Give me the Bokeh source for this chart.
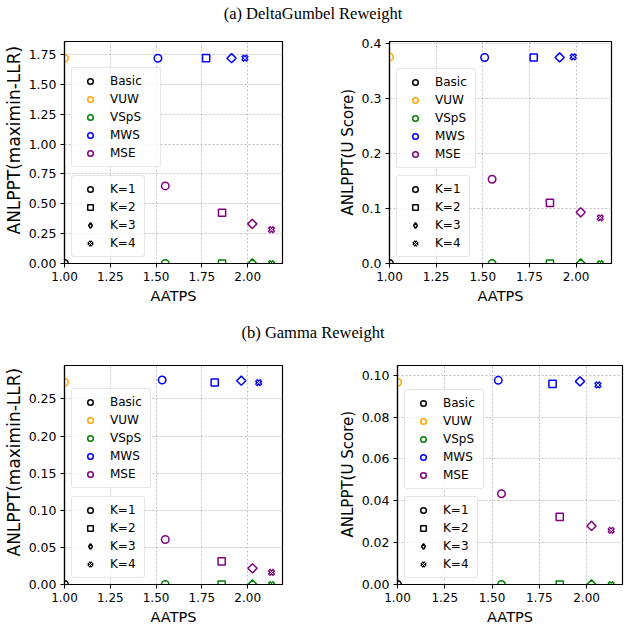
import math
from bokeh.plotting import figure
from bokeh.models import (ColumnDataSource, Legend, LegendItem, FixedTicker,
                          NumeralTickFormatter, Range1d, Div, Title)
from bokeh.layouts import column, row
from bokeh.embed import file_html
from bokeh.resources import INLINE

# ---------------- data ----------------
method_labels = ["Basic", "VUW", "VSpS", "MWS", "MSE"]
method_colors = ["black", "orange", "green", "blue", "purple"]
k_labels = ["K=1", "K=2", "K=3", "K=4"]

x_ticks = [1.00, 1.25, 1.50, 1.75, 2.00]

# (a) DeltaGumbel Reweight
a_basic_x, a_basic_llr, a_basic_u = 1.0, 0.0, 0.0
a_vuw_x, a_vuw_llr, a_vuw_u = 1.0, 1.72, 0.375
a_vsps_x = [1.55, 1.86, 2.025, 2.13]
a_vsps_llr = [0.0, 0.0, 0.0, 0.0]
a_vsps_u = [0.0, 0.0, 0.0, 0.0]
a_mws_x = [1.51, 1.773, 1.912, 1.985]
a_mws_llr = [1.72, 1.72, 1.72, 1.72]
a_mws_u = [0.374, 0.374, 0.374, 0.375]
a_mse_x = [1.55, 1.86, 2.025, 2.13]
a_mse_llr = [0.65, 0.425, 0.332, 0.283]
a_mse_u = [0.153, 0.110, 0.093, 0.083]

# (b) Gamma Reweight
b_basic_x, b_basic_llr, b_basic_u = 1.0, 0.0, 0.0
b_vuw_x, b_vuw_llr, b_vuw_u = 1.0, 0.2725, 0.0967
b_vsps_x = [1.55, 1.858, 2.026, 2.13]
b_vsps_llr = [0.0, 0.0, 0.0, 0.0]
b_vsps_u = [0.0, 0.0, 0.0, 0.0]
b_mws_x = [1.533, 1.82, 1.965, 2.06]
b_mws_llr = [0.2754, 0.2721, 0.2745, 0.272]
b_mws_u = [0.0976, 0.0959, 0.0971, 0.0954]
b_mse_x = [1.55, 1.858, 2.026, 2.13]
b_mse_llr = [0.0606, 0.0311, 0.0218, 0.0162]
b_mse_u = [0.0434, 0.0323, 0.028, 0.0259]

llr_ticks_a = [0.0, 0.25, 0.50, 0.75, 1.00, 1.25, 1.50, 1.75]
u_ticks_a = [0.0, 0.1, 0.2, 0.3, 0.4]
llr_ticks_b = [0.0, 0.05, 0.10, 0.15, 0.20, 0.25]
u_ticks_b = [0.0, 0.02, 0.04, 0.06, 0.08, 0.10]

FONT = "DejaVu Sans"
LW = 1.5
NAN = float("nan")


def draw_marker(p, src, color, k, legend=False):
    if k == 0:
        return [p.scatter("x", "y", source=src, marker="circle", size=7.5,
                          fill_color=None, line_color=color, line_width=LW)]
    if k == 1:
        return [p.scatter("x", "y", source=src, marker="square", size=7.2,
                          fill_color=None, line_color=color, line_width=LW)]
    if k == 2:
        if legend:
            return [p.scatter("x", "y", source=src, marker="diamond", size=9,
                              fill_color=None, line_color=color, line_width=LW)]
        return [p.scatter("x", "y", source=src, marker="square", size=6.5,
                          angle=math.pi / 4, fill_color=None,
                          line_color=color, line_width=LW)]
    r1 = p.scatter("x", "y", source=src, marker="x", size=7.5,
                   line_color=color, line_width=3.4)
    r2 = p.scatter("x", "y", source=src, marker="x", size=5.0 if not legend else 7.5,
                   line_color="white", line_width=1.0)
    return [r1, r2]


def make_panel(width, mbl, mbr, height, mbt, mbb, ylabel, ylabel_size, yend,
               yticks, yfmt, basic, vuw, vsps, mws, mse, lw_color, leg_color_y,
               ylab_offset):
    p = figure(width=width, height=height, output_backend="svg",
               toolbar_location=None, x_range=Range1d(1.0, 2.19),
               y_range=Range1d(0.0, yend), min_border_left=mbl,
               min_border_right=mbr, min_border_top=mbt, min_border_bottom=mbb)
    p.background_fill_color = "white"
    p.border_fill_color = "white"
    p.outline_line_color = "black"
    p.outline_line_width = 1.2
    p.outline_line_alpha = 1.0
    p.grid.grid_line_color = "#b0b0b0"
    p.grid.grid_line_dash = "2 2"
    p.grid.grid_line_width = 0.8

    p.xaxis.ticker = FixedTicker(ticks=x_ticks, minor_ticks=[])
    p.xaxis.formatter = NumeralTickFormatter(format="0.00")
    p.yaxis.ticker = FixedTicker(ticks=yticks, minor_ticks=[])
    p.yaxis.formatter = NumeralTickFormatter(format=yfmt)
    p.xaxis.axis_label = "AATPS"
    for ax in (p.xaxis, p.yaxis):
        ax.axis_line_color = "black"
        ax.axis_line_width = 1.2
        ax.major_tick_line_color = "black"
        ax.major_tick_out = 4
        ax.major_tick_in = 0
        ax.minor_tick_out = 0
        ax.minor_tick_in = 0
        ax.major_label_text_color = "black"
        ax.major_label_text_font = FONT
        ax.axis_label_text_color = "black"
        ax.axis_label_text_font = FONT
        ax.axis_label_text_font_style = "normal"
        ax.major_label_standoff = 4
    p.xaxis.major_label_text_font_size = "12px"
    p.yaxis.major_label_text_font_size = "12.5px"
    p.xaxis.axis_label_text_font_size = "14.5px"
    p.xaxis.axis_label_standoff = 4

    # y axis title: a side title next to the y axis, started from the frame bottom
    p.add_layout(Title(text=ylabel, align="left", offset=ylab_offset,
                       standoff=3, text_font=FONT, text_font_size=ylabel_size,
                       text_font_style="normal", text_color="black"), "left")

    # points
    r_basic = draw_marker(p, ColumnDataSource(dict(x=[basic[0]], y=[basic[1]])), method_colors[0], 0)
    r_vuw = draw_marker(p, ColumnDataSource(dict(x=[vuw[0]], y=[vuw[1]])), method_colors[1], 0)
    first = {}
    for name, (xs, ys), color in (("VSpS", vsps, method_colors[2]),
                                  ("MWS", mws, method_colors[3]),
                                  ("MSE", mse, method_colors[4])):
        for k in range(4):
            src = ColumnDataSource(dict(x=[xs[k]], y=[ys[k]]))
            rs = draw_marker(p, src, color, k)
            if k == 0:
                first[name] = rs

    color_items = [LegendItem(label="Basic", renderers=r_basic),
                   LegendItem(label="VUW", renderers=r_vuw),
                   LegendItem(label="VSpS", renderers=first["VSpS"]),
                   LegendItem(label="MWS", renderers=first["MWS"]),
                   LegendItem(label="MSE", renderers=first["MSE"])]
    k_items = []
    for k in range(4):
        rs = draw_marker(p, ColumnDataSource(dict(x=[NAN], y=[NAN])), "black", k, legend=True)
        k_items.append(LegendItem(label=k_labels[k], renderers=rs))

    for items, loc, lw in ((color_items, (7, leg_color_y), lw_color),
                           (k_items, (7, 6), 28)):
        leg = Legend(items=items, location=loc)
        leg.padding = 6
        leg.spacing = 4
        leg.glyph_height = 14
        leg.glyph_width = 24
        leg.label_height = 14
        leg.label_width = lw
        leg.label_standoff = 8
        leg.label_text_font = FONT
        leg.label_text_font_size = "12px"
        leg.label_text_color = "black"
        leg.border_line_color = "#cccccc"
        leg.border_line_width = 1
        leg.background_fill_color = "white"
        leg.background_fill_alpha = 0.8
        leg.margin = 0
        if "border_radius" in Legend.properties():
            leg.border_radius = 3
        p.add_layout(leg)
    return p


p1 = make_panel(322, 57, 40, 275, 7, 44, "ANLPPT(maximin-LLR)", "17px", 1.86,
                llr_ticks_a, "0.00",
                (a_basic_x, a_basic_llr), (a_vuw_x, a_vuw_llr),
                (a_vsps_x, a_vsps_llr), (a_mws_x, a_mws_llr), (a_mse_x, a_mse_llr),
                44, 96, 29)
p2 = make_panel(294, 67, 5, 275, 9, 44, "ANLPPT(U Score)", "15px", 0.403,
                u_ticks_a, "0.0",
                (a_basic_x, a_basic_u), (a_vuw_x, a_vuw_u),
                (a_vsps_x, a_vsps_u), (a_mws_x, a_mws_u), (a_mse_x, a_mse_u),
                34, 95, 48)
p3 = make_panel(330, 57, 48, 270, 8, 38, "ANLPPT(maximin-LLR)", "17px", 0.295,
                llr_ticks_b, "0.00",
                (b_basic_x, b_basic_llr), (b_vuw_x, b_vuw_llr),
                (b_vsps_x, b_vsps_llr), (b_mws_x, b_mws_llr), (b_mse_x, b_mse_llr),
                34, 96, 28)
p4 = make_panel(294, 67, 2, 270, 8, 38, "ANLPPT(U Score)", "15px", 0.1047,
                u_ticks_b, "0.00",
                (b_basic_x, b_basic_u), (b_vuw_x, b_vuw_u),
                (b_vsps_x, b_vsps_u), (b_mws_x, b_mws_u), (b_mse_x, b_mse_u),
                34, 95, 47)

title_style = ("text-align:center; width:616px; font-family:'Liberation Serif', serif; "
               "font-size:16.5px; line-height:17px; color:black;")
div_a = Div(text='<div style="%s margin-top:0px;">(a) DeltaGumbel Reweight</div>' % title_style,
            width=616, height=22)
div_b = Div(text='<div style="%s margin-top:12px;">(b) Gamma Reweight</div>' % title_style,
            width=616, height=40)

layout = column(div_a, row(p1, p2), div_b, row(p3, p4))

with open("out.html", "w") as f:
    f.write(file_html(layout, INLINE))
